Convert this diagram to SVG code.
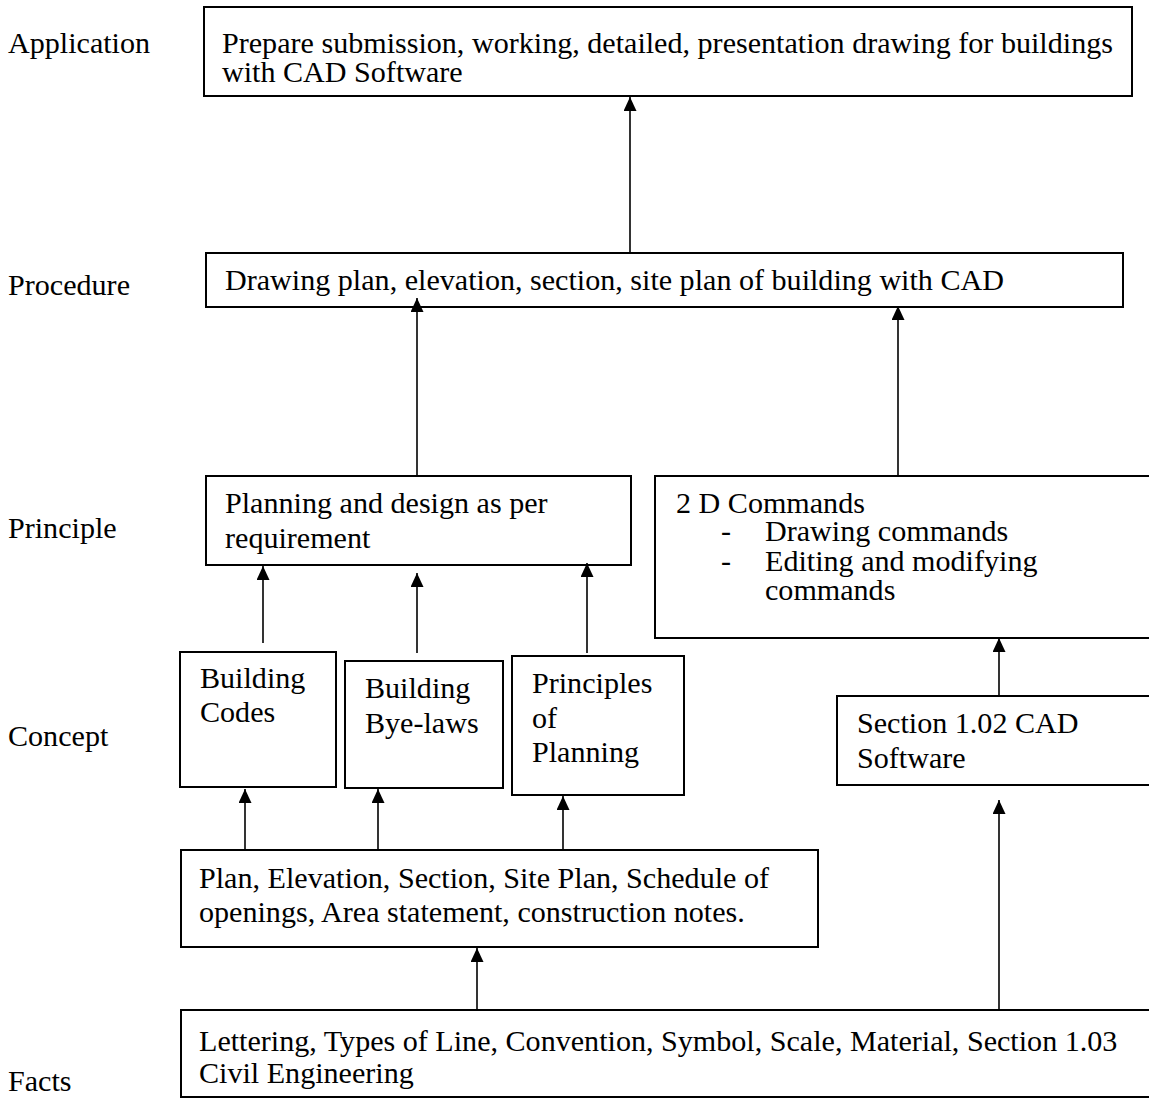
<svg xmlns="http://www.w3.org/2000/svg" width="1149" height="1099" viewBox="0 0 1149 1099">
<style>
text{font-family:"Liberation Serif","Times New Roman",serif;font-size:30.1px;fill:#000}
.box{fill:#fff;stroke:#000;stroke-width:2}
.con{stroke:#000;stroke-width:1.6;fill:none}
</style>
<defs>
<marker id="ah" markerUnits="userSpaceOnUse" markerWidth="15" markerHeight="14" refX="14" refY="6.5" orient="auto">
<path d="M0,0 L14,6.5 L0,13 z" fill="#000"/>
</marker>
</defs>
<rect width="1149" height="1099" fill="#fff"/>
<g id="levels">
<text x="8" y="53">Application</text>
<text x="8" y="295">Procedure</text>
<text x="8" y="538">Principle</text>
<text x="8" y="746">Concept</text>
<text x="8" y="1091">Facts</text>
</g>
<g id="application">
<rect class="box" x="204" y="7" width="928" height="89"/>
<text x="222" y="53">Prepare submission, working, detailed, presentation drawing for buildings</text>
<text x="222" y="82">with CAD Software</text>
</g>
<g id="procedure">
<rect class="box" x="206" y="253" width="917" height="54"/>
<text x="225" y="290">Drawing plan, elevation, section, site plan of building with CAD</text>
</g>
<g id="planning">
<rect class="box" x="206" y="476" width="425" height="89"/>
<text x="225" y="513">Planning and design as per</text>
<text x="225" y="548">requirement</text>
</g>
<g id="commands2d">
<rect class="box" x="655" y="476" width="510" height="162"/>
<text x="676" y="513">2 D Commands</text>
<text x="721" y="541">-</text>
<text x="765" y="541">Drawing commands</text>
<text x="721" y="571">-</text>
<text x="765" y="571">Editing and modifying</text>
<text x="765" y="600">commands</text>
</g>
<g id="codes">
<rect class="box" x="180" y="652" width="156" height="135"/>
<text x="200" y="688">Building</text>
<text x="200" y="722">Codes</text>
</g>
<g id="byelaws">
<rect class="box" x="345" y="661" width="158" height="127"/>
<text x="365" y="698">Building</text>
<text x="365" y="733">Bye-laws</text>
</g>
<g id="principles">
<rect class="box" x="512" y="656" width="172" height="139"/>
<text x="532" y="693">Principles</text>
<text x="532" y="728">of</text>
<text x="532" y="762">Planning</text>
</g>
<g id="cadsoftware">
<rect class="box" x="837" y="696" width="330" height="89"/>
<text x="857" y="733">Section 1.02 CAD</text>
<text x="857" y="768">Software</text>
</g>
<g id="drawings">
<rect class="box" x="181" y="850" width="637" height="97"/>
<text x="199" y="888">Plan, Elevation, Section, Site Plan, Schedule of</text>
<text x="199" y="922">openings, Area statement, construction notes.</text>
</g>
<g id="facts">
<rect class="box" x="181" y="1010" width="985" height="87"/>
<text x="199" y="1051">Lettering, Types of Line, Convention, Symbol, Scale, Material, Section 1.03</text>
<text x="199" y="1083">Civil Engineering</text>
</g>
<g id="connectors">
<line class="con" x1="630" y1="253" x2="630" y2="97" marker-end="url(#ah)"/>
<line class="con" x1="417" y1="476" x2="417" y2="298" marker-end="url(#ah)"/>
<line class="con" x1="898" y1="476" x2="898" y2="306" marker-end="url(#ah)"/>
<line class="con" x1="263" y1="643" x2="263" y2="566" marker-end="url(#ah)"/>
<line class="con" x1="417" y1="653" x2="417" y2="573" marker-end="url(#ah)"/>
<line class="con" x1="587" y1="653" x2="587" y2="563" marker-end="url(#ah)"/>
<line class="con" x1="999" y1="696" x2="999" y2="638" marker-end="url(#ah)"/>
<line class="con" x1="245" y1="850" x2="245" y2="789" marker-end="url(#ah)"/>
<line class="con" x1="378" y1="850" x2="378" y2="789" marker-end="url(#ah)"/>
<line class="con" x1="563" y1="850" x2="563" y2="796" marker-end="url(#ah)"/>
<line class="con" x1="999" y1="1010" x2="999" y2="800" marker-end="url(#ah)"/>
<line class="con" x1="477" y1="1010" x2="477" y2="948" marker-end="url(#ah)"/>
</g>
</svg>
